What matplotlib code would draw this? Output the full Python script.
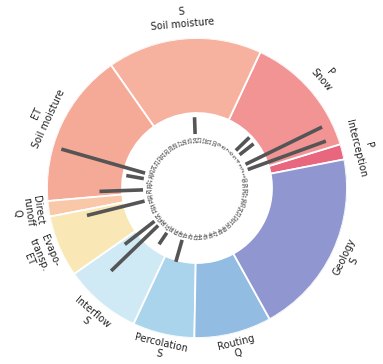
import numpy as np
import matplotlib
matplotlib.use("Agg")
import matplotlib.pyplot as plt

# Process groups, counter-clockwise starting on the right-hand side
group_names = ["Interception", "Snow", "Soil moisture", "Soil moisture",
               "Direct\nrunoff", "Evapo-\ntransp.", "Interflow",
               "Percolation", "Routing", "Geology"]
group_vars = ["P", "P", "S", "ET", "Q", "ET", "S", "S", "Q", "S"]
group_nparams = [1, 8, 10, 10, 1, 4, 5, 4, 5, 12]
group_colors = ["#e8677f", "#f29494", "#f6b19f", "#f5aa97", "#f8c8a8",
                "#f9e8b6", "#cfe9f5", "#a9d4ec", "#92bce1", "#8f96d0"]

# Sensitivity index of the informative parameters (all others are zero)
param_ids = [2, 3, 5, 6, 14, 26, 27, 29, 31, 35, 36, 38, 41]
sensitivity = [0.84, 0.86, 0.18, 0.19, 0.17, 0.88, 0.18, 0.44, 0.60,
               0.38, 0.66, 0.14, 0.23]

n_total = sum(group_nparams)
start = np.deg2rad(11.0)
step = 2 * np.pi / n_total

fig = plt.figure(figsize=(3.83, 3.64), dpi=100)
ax = fig.add_axes([0.1227, 0.0714, 0.7833, 0.8242], projection="polar")
ax.set_ylim(0, 1.0)
ax.set_axis_off()

ring_in, ring_out = 0.5, 1.0
bar_base, bar_scale = 0.36, 0.66
num_r = 0.325

# Donut of process groups
edges = start + step * np.concatenate([[0], np.cumsum(group_nparams)])
mids = 0.5 * (edges[:-1] + edges[1:])
widths = np.diff(edges)
ax.bar(mids, ring_out - ring_in, width=widths, bottom=ring_in,
       color=group_colors, edgecolor="white", linewidth=1.3, align="center")

# Group labels outside the ring
for m, name, var in zip(mids, group_names, group_vars):
    deg = np.rad2deg(m) % 360
    nlines = name.count("\n") + 2
    if deg < 180:
        txt, rot = f"{var}\n{name}", deg - 90
        r_lab = 1.135
        spacing = 1.3
    else:
        txt, rot = f"{name}\n{var}", deg + 90
        r_lab = 1.075 + 0.025 * (nlines - 1) if 240 < deg < 300 else 1.12 + 0.02 * (nlines - 2)
        spacing = 1.12
    ax.text(m, r_lab, txt, rotation=rot, rotation_mode="anchor",
            ha="center", va="center", multialignment="center",
            fontsize=7, color="#222222", linespacing=spacing)

# Parameter numbers around the inner circle
theta_p = start + step * (np.arange(1, n_total + 1) - 0.5)
for k, th in enumerate(theta_p, start=1):
    ax.text(th, num_r, str(k), rotation=np.rad2deg(th), rotation_mode="anchor",
            ha="center", va="center", fontsize=4.2, color="#3a3a3a")

# Radial sensitivity bars
th_b = theta_p[np.array(param_ids) - 1]
ax.vlines(th_b, bar_base, bar_base + bar_scale * np.array(sensitivity),
          colors="#555555", linewidth=2.6, capstyle="butt")

fig.savefig("out.png", dpi=100)
